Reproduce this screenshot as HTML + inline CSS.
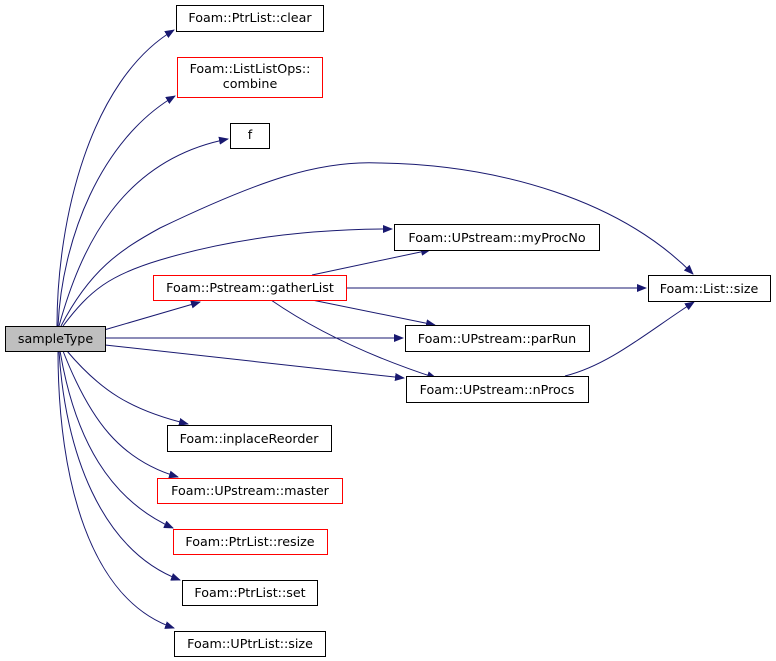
<!DOCTYPE html>
<html><head><style>body{margin:0;background:#fff}svg{display:block}</style></head><body>
<svg width="776" height="661" viewBox="0 0 776 661" font-family="DejaVu Sans, Liberation Sans, sans-serif" font-size="12.7">
<defs><marker id="a" markerWidth="10" markerHeight="8" refX="9" refY="4" orient="auto" markerUnits="userSpaceOnUse"><path d="M0,0 L10,4 L0,8z" fill="#191970"/></marker></defs>
<g fill="none" stroke="#191970" stroke-width="1" marker-end="url(#a)">
<path d="M57,326 C57,220 90,80 174,30"/>
<path d="M58,326 C62,240 100,140 175,96"/>
<path d="M59,326 C80,250 120,160 228,139"/>
<path d="M61,326 C90,270 120,250 160,228 C260,180 320,160 380,163 C500,165 620,200 693,274"/>
<path d="M63,326 C90,290 110,275 160,260 C240,236 320,229 392,229"/>
<path d="M104,330 L200,302"/>
<path d="M105,338 L403,338"/>
<path d="M105,345 L404,378"/>
<path d="M67,351 C100,390 130,410 188,424"/>
<path d="M63,351 C90,420 120,460 178,477"/>
<path d="M60,351 C75,440 110,500 173,528"/>
<path d="M59,351 C65,450 100,550 180,580"/>
<path d="M58,351 C58,480 90,600 174,628"/>
<path d="M312,275 L430,250"/>
<path d="M346,288 L646,288"/>
<path d="M312,300 L435,325"/>
<path d="M271,300 C300,320 350,350 436,378"/>
<path d="M565,376 C610,365 650,330 694,302"/>
</g>
<g stroke-width="1" fill="#fff">
<rect x="5.5" y="326.5" width="100" height="25" fill="#bfbfbf" stroke="#000"/>
<rect x="176.5" y="5.5" width="147" height="26" stroke="#000"/>
<rect x="177.5" y="57.5" width="145" height="40" stroke="#f00"/>
<rect x="230.5" y="123.5" width="39" height="25" stroke="#000"/>
<rect x="153.5" y="275.5" width="193" height="25" stroke="#f00"/>
<rect x="394.5" y="224.5" width="205" height="26" stroke="#000"/>
<rect x="648.5" y="275.5" width="122" height="26" stroke="#000"/>
<rect x="405.5" y="325.5" width="184" height="26" stroke="#000"/>
<rect x="406.5" y="376.5" width="182" height="26" stroke="#000"/>
<rect x="167.5" y="425.5" width="164" height="26" stroke="#000"/>
<rect x="157.5" y="478.5" width="185" height="25" stroke="#f00"/>
<rect x="173.5" y="529.5" width="154" height="25" stroke="#f00"/>
<rect x="182.5" y="580.5" width="135" height="25" stroke="#000"/>
<rect x="174.5" y="631.5" width="151" height="25" stroke="#000"/>
</g>
<g fill="#000" text-anchor="middle">
<text x="55.5" y="343">sampleType</text>
<text x="250" y="22">Foam::PtrList::clear</text>
<text x="250" y="73">Foam::ListListOps::</text>
<text x="250" y="88">combine</text>
<text x="250" y="139">f</text>
<text x="250" y="292">Foam::Pstream::gatherList</text>
<text x="497" y="242">Foam::UPstream::myProcNo</text>
<text x="709" y="293">Foam::List::size</text>
<text x="497" y="343">Foam::UPstream::parRun</text>
<text x="497" y="394">Foam::UPstream::nProcs</text>
<text x="249" y="443">Foam::inplaceReorder</text>
<text x="250" y="495">Foam::UPstream::master</text>
<text x="250" y="546">Foam::PtrList::resize</text>
<text x="250" y="597">Foam::PtrList::set</text>
<text x="250" y="648">Foam::UPtrList::size</text>
</g>
</svg>
</body></html>
